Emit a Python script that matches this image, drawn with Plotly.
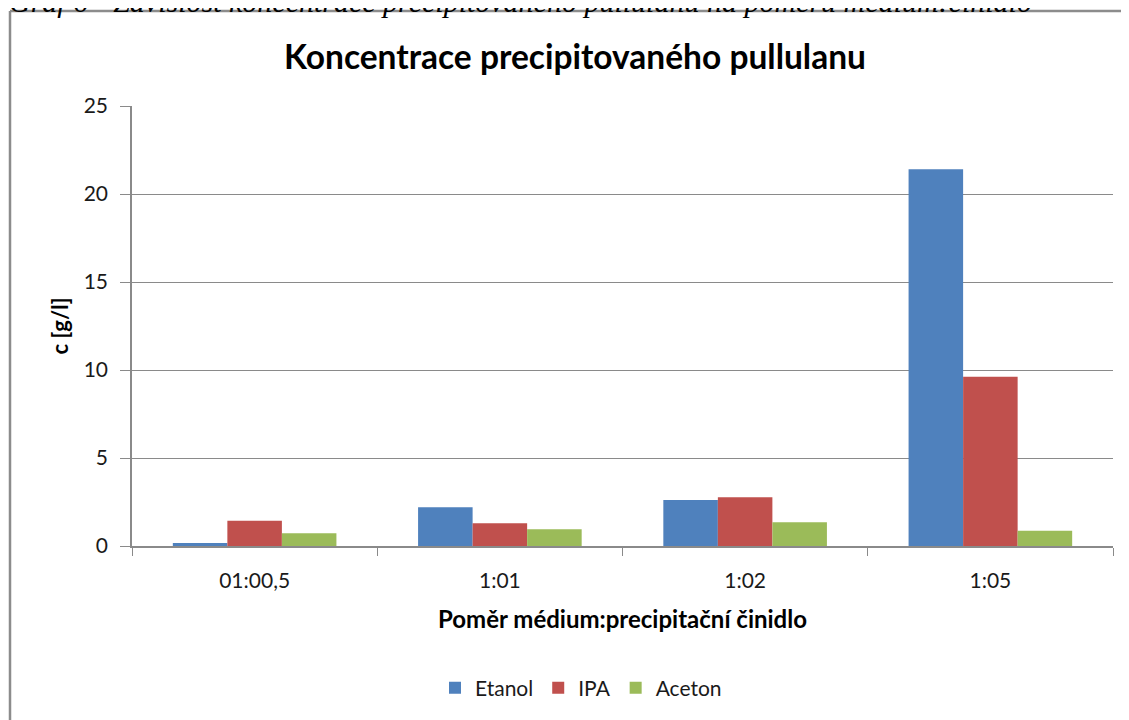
import plotly.graph_objects as go

# data
categories = ["01:00,5", "1:01", "1:02", "1:05"]
etanol = [0.17, 2.2, 2.61, 21.4]
ipa = [1.44, 1.29, 2.77, 9.62]
aceton = [0.72, 0.95, 1.35, 0.87]

COLORS = {"Etanol": "#4F81BD", "IPA": "#C0504D", "Aceton": "#9BBB59"}
FONT = "Lato, Open Sans, sans-serif"
GRID = "#8a8a8a"
FRAME = "#8c8c8c"

fig = go.Figure()
for name, vals in [("Etanol", etanol), ("IPA", ipa), ("Aceton", aceton)]:
    fig.add_trace(go.Bar(
        x=categories, y=vals, name=name,
        marker=dict(color=COLORS[name], line=dict(width=0)),
    ))

# the page puts the figure at (8, 8); all positions below are page pixels
OFF = 8
W, H = 1129 - OFF, 720 - OFF
# plot area in page px: x 132..1113, y 106..546
L, R, T, B = 132 - OFF, 1129 - 1113, 106 - OFF, 720 - 546
pw, ph = W - L - R, H - T - B


def px_x(p):
    return (p - OFF - L) / pw


def px_y(p):
    return (H - B - (p - OFF)) / ph


fig.update_layout(
    width=W, height=H,
    margin=dict(l=L, r=R, t=T, b=B),
    paper_bgcolor="white", plot_bgcolor="white",
    font=dict(family=FONT, size=21, color="#1a1a1a"),
    barmode="group", bargap=0.333, bargroupgap=0,
    title=dict(
        text="<b>Koncentrace precipitovaného pullulanu</b>",
        font=dict(size=33.5, color="black"),
        x=(575 - OFF) / W, xanchor="center", y=1 - (57 - OFF) / H,
        yanchor="middle",
    ),
    xaxis=dict(
        showline=True, linecolor=GRID, linewidth=1.5,
        ticks="outside", tickson="boundaries", ticklen=8, tickcolor=GRID,
        ticklabelstandoff=15,
        title=dict(text="<b>Poměr médium:precipitační činidlo</b>",
                   font=dict(size=24, color="black"), standoff=20),
        tickfont=dict(size=21),
    ),
    yaxis=dict(
        range=[0, 25], dtick=5,
        showgrid=True, gridcolor=GRID, gridwidth=1,
        showline=True, linecolor=GRID, linewidth=1.5,
        ticks="outside", ticklen=10, tickcolor=GRID,
        ticklabelstandoff=8,
        zeroline=False,
        title=dict(text="<b>c [g/l]</b>", font=dict(size=22, color="black"),
                   standoff=9),
        tickfont=dict(size=21),
    ),
    legend=dict(
        orientation="h", x=px_x(581), xanchor="center",
        y=px_y(688), yanchor="middle",
        font=dict(size=21), traceorder="normal",
    ),
    shapes=[
        # outer chart frame: only the top and left edges are on the page
        dict(type="line", xref="paper", yref="paper",
             x0=px_x(10), x1=1.1, y0=px_y(11), y1=px_y(11),
             line=dict(color=FRAME, width=2.5)),
        dict(type="line", xref="paper", yref="paper",
             x0=px_x(10), x1=px_x(10), y0=px_y(11), y1=-0.6,
             line=dict(color=FRAME, width=2.5)),
    ],
    annotations=[dict(
        text="Graf 6 - Závislost koncentrace precipitovaného pullulanu na poměru médium:činidlo",
        xref="paper", yref="paper", x=px_x(7), xanchor="left",
        y=px_y(1), yanchor="middle", showarrow=False,
        font=dict(family="Liberation Serif, DejaVu Serif, serif", size=30,
                  color="black", style="italic"),
    )],
)

fig.write_html("out.html")
